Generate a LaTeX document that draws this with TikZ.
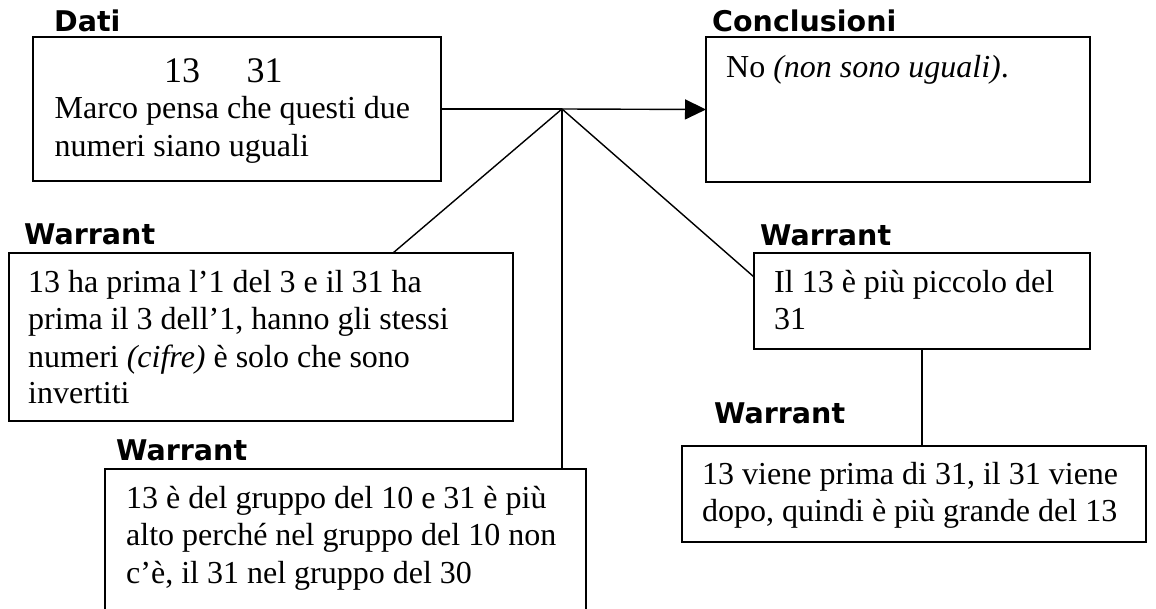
\documentclass[tikz,border=0pt]{standalone}
\usepackage{fontspec}
\setmainfont{Liberation Serif}
\newfontfamily\labfont{DejaVu Sans}
\usetikzlibrary{arrows.meta,calc}
\begin{document}
\begin{tikzpicture}[x=1pt,y=-1pt,
  box/.style={draw,line width=1.8pt,inner sep=0pt,outer sep=0pt,anchor=north west},
  txt/.style={anchor=base west,inner sep=0pt,font=\fontsize{32}{37}\selectfont},
  lab/.style={anchor=base west,inner sep=0pt,font=\labfont\bfseries\fontsize{28.5}{34}\selectfont},
  conn/.style={line width=1.4pt}]
\useasboundingbox (0,0) rectangle (1156,609);
\clip (0,0) rectangle (1156,609);
\fill[white] (0,0) rectangle (1156,609);

% boxes
\node[box,minimum width=408pt,minimum height=144pt] (dati) at (33,37) {};
\node[box,minimum width=384pt,minimum height=145pt] (concl) at (706,37) {};
\node[box,minimum width=504pt,minimum height=168pt] (w1) at (9,253) {};
\node[box,minimum width=481pt,minimum height=200pt] (w2) at (105,469) {};
\node[box,minimum width=336pt,minimum height=96pt] (w3) at (754,253) {};
\node[box,minimum width=464pt,minimum height=96pt] (w4) at (682,446) {};

% labels
\node[lab] (ldati) at (54,32) {Dati};
\node[lab] (lconc) at (712,32) {Conclusioni};
\node[lab] (lw1) at (24,245) {Warrant};
\node[lab] (lw2) at (116,460) {Warrant};
\node[lab] (lw3) at (760,246) {Warrant};
\node[lab] (lw4) at (714,423) {Warrant};

% texts
\node[anchor=base west,inner sep=0pt,font=\fontsize{36}{40}\selectfont] (nums) at (164,83) {13\hspace{46.5pt}31};
\node[txt] (d1) at (54.5,119) {Marco pensa che questi due};
\node[txt] (d2) at (54.5,157) {numeri siano uguali};

\node[txt] (c1) at (726,78) {No \textit{(non sono uguali)}.};

\node[txt] (a1) at (28,293) {13 ha prima l’1 del 3 e il 31 ha};
\node[txt] (a2) at (28,330) {prima il 3 dell’1, hanno gli stessi};
\node[txt] (a3) at (28,367) {numeri \textit{(cifre)} è solo che sono};
\node[txt] (a4) at (28,403) {invertiti};

\node[txt] (b1) at (126,508) {13 è del gruppo del 10 e 31 è più};
\node[txt] (b2) at (126,545) {alto perché nel gruppo del 10 non};
\node[txt] (b3) at (126,583) {c’è, il 31 nel gruppo del 30};

\node[txt] (e1) at (774,293) {Il 13 è più piccolo del};
\node[txt] (e2) at (774,330) {31};

\node[txt] (f1) at (702,484) {13 viene prima di 31, il 31 viene};
\node[txt] (f2) at (702,521) {dopo, quindi è più grande del 13};

% connectors
\coordinate (apex) at (562,109);
\draw[conn] (dati.east) -- (apex);
\draw[conn,-{Triangle[length=21pt,width=20pt]}] (apex) -- (concl.west);
\draw[conn] (apex) -- ([xshift=384pt]w1.north west);
\draw[conn] (apex) -- (apex |- w2.north);
\draw[conn] (apex) -- ([yshift=-24pt]w3.north west);
\draw[conn] (w3.south) -- (w3.south |- w4.north);
\end{tikzpicture}
\end{document}
